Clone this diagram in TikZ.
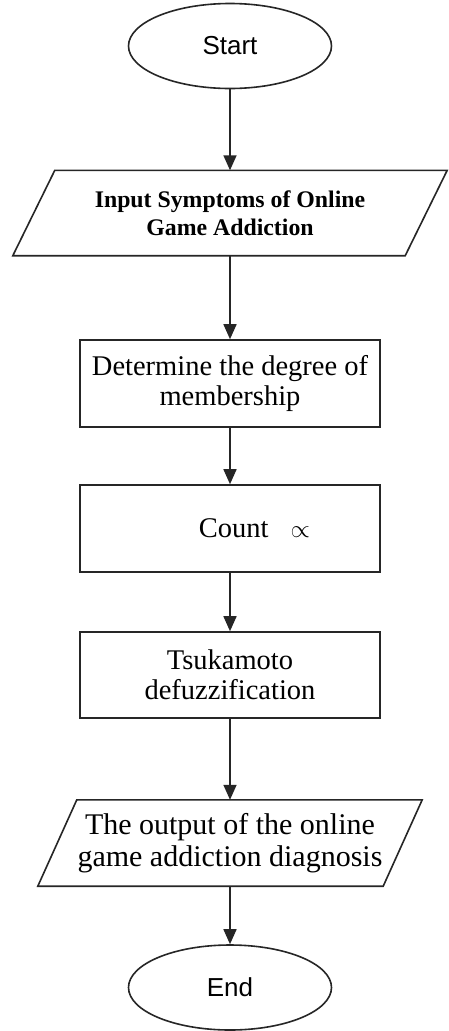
\documentclass[tikz,border=0pt]{standalone}
\usepackage{fontspec}
\setmainfont{Liberation Serif}
\newfontfamily\sansf{Liberation Sans}
\usetikzlibrary{shapes.geometric,arrows.meta}
\begin{document}
\begin{tikzpicture}[x=1pt,y=-1pt,
  line/.style={draw=black!85, line width=1.6pt},
  term/.style={ellipse, line, fill=white, minimum width=203pt, minimum height=85pt, inner sep=0pt,
    font=\sansf\fontsize{26}{30}\selectfont},
  procbox/.style={rectangle, line, minimum width=300pt, minimum height=87pt, inner sep=0pt, align=center,
    font=\fontsize{28.5}{30}\selectfont},
  iobox/.style={rectangle, inner sep=0pt, align=center},
  arr/.style={line, -{Triangle[length=15pt,width=13pt]}}
]
\useasboundingbox[fill=white] (0,0) rectangle (448,1031);

\node[term] (start) at (230,46) {Start};

\node[iobox, minimum width=392pt, minimum height=85pt,
  font=\bfseries\fontsize{23.8}{28}\selectfont] (in) at (230,213)
  {Input Symptoms of Online\\Game Addiction};
\draw[line, line join=miter] ([xshift=21pt]in.north west) -- ([xshift=21pt]in.north east)
  -- ([xshift=-21pt]in.south east) -- ([xshift=-21pt]in.south west) -- cycle;

\node[procbox] (deg) at (230,383.5) {Determine the degree of\\membership};
\node[procbox, minimum height=87pt] (cnt) at (230,528.5) {\hspace*{49pt}Count\hspace{22pt}$\propto$};
\node[procbox, minimum height=86pt] (tsu) at (230,675) {Tsukamoto\\defuzzification};

\node[iobox, minimum width=345pt, minimum height=86pt,
  font=\fontsize{30}{32}\selectfont] (out) at (230,843)
  {The output of the online\\game addiction diagnosis};
\draw[line, line join=miter] ([xshift=19.5pt]out.north west) -- ([xshift=19.5pt]out.north east)
  -- ([xshift=-19.5pt]out.south east) -- ([xshift=-19.5pt]out.south west) -- cycle;

\node[term] (end) at (230,987.5) {End};

\draw[arr] (start) -- (in.north);
\draw[arr] (in.south) -- (deg.north);
\draw[arr] (deg) -- (cnt);
\draw[arr] (cnt) -- (tsu);
\draw[arr] (tsu.south) -- (out.north);
\draw[arr] (out.south) -- (end);
\end{tikzpicture}
\end{document}
